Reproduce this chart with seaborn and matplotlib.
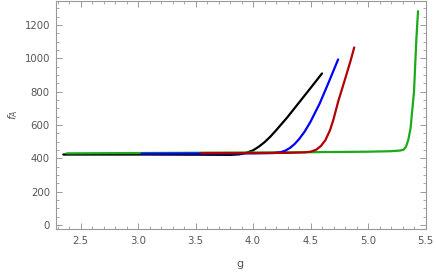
import numpy as np
import pandas as pd
import seaborn as sns
import matplotlib.pyplot as plt
from matplotlib.ticker import MultipleLocator

# curves (g, f_A)
g_black = [2.35, 3.0, 3.5, 3.8, 3.88, 3.94, 4.0, 4.05, 4.1, 4.15, 4.2, 4.3, 4.4, 4.5, 4.6]
f_black = [423, 423, 422, 421, 424, 433, 448, 470, 497, 530, 568, 648, 735, 822, 910]

g_blue = [3.03, 3.5, 4.0, 4.18, 4.24, 4.28, 4.32, 4.36, 4.4, 4.45, 4.5, 4.58, 4.66, 4.74]
f_blue = [428, 429, 430, 432, 437, 446, 462, 485, 515, 562, 620, 730, 860, 994]

g_red = [3.55, 4.0, 4.3, 4.45, 4.5, 4.55, 4.59, 4.63, 4.67, 4.7, 4.74, 4.8, 4.85, 4.88]
f_red = [432, 432, 433, 436, 440, 452, 474, 510, 570, 635, 740, 875, 990, 1066]

g_green = [2.38, 3.0, 4.0, 4.5, 5.0, 5.2, 5.28, 5.31, 5.33, 5.35, 5.37, 5.4, 5.42, 5.435]
f_green = [430, 432, 435, 437, 440, 443, 447, 452, 470, 510, 580, 800, 1110, 1284]

series = [
    ('black', g_black, f_black, 'black'),
    ('green', g_green, f_green, '#1aaa1a'),
    ('blue', g_blue, f_blue, '#0000ff'),
    ('red', g_red, f_red, '#b30000'),
]

sns.set_style('ticks')
plt.rcParams['font.family'] = ['DejaVu Sans']

fig = plt.figure(figsize=(4.36, 2.73), dpi=100)
ax = fig.add_axes([55.5 / 436, 1 - 229.3 / 273, 370 / 436, 228.3 / 273])

for name, gx, fy, col in series:
    df = pd.DataFrame({'g': gx, 'f': fy})
    sns.lineplot(data=df, x='g', y='f', sort=False, color=col, lw=1.6, ax=ax)

ax.set_xlim(2.282, 5.5)
ax.set_ylim(-26, 1345)
ax.xaxis.set_major_locator(MultipleLocator(0.5))
ax.xaxis.set_minor_locator(MultipleLocator(0.1))
ax.yaxis.set_major_locator(MultipleLocator(200))
ax.yaxis.set_minor_locator(MultipleLocator(50))

frame = '#999999'
for s in ax.spines.values():
    s.set_color(frame)
    s.set_linewidth(0.8)
ax.tick_params(which='both', direction='in', top=True, right=True,
               color=frame, labelcolor='#555555', labelsize=7.3)
ax.tick_params(which='major', length=4, width=0.7)
ax.tick_params(which='minor', length=2, width=0.6)
ax.tick_params(axis='x', pad=5)
ax.tick_params(axis='y', pad=4)

ax.set_xlabel('g', color='#555555', fontsize=8, va='center')
ax.set_ylabel('$f_A$', color='#555555', fontsize=8, va='center')
ax.xaxis.set_label_coords((240 - 55.5) / 370, (229.3 - 264) / 228.3)
ax.yaxis.set_label_coords((13 - 55.5) / 370, 0.5)

fig.savefig('out.png', dpi=100)
